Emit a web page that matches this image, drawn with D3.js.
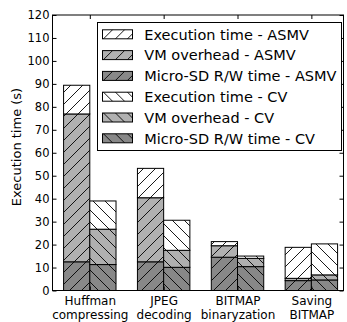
<!DOCTYPE html>
<html>
<head>
<meta charset="utf-8">
<script src="https://cdn.jsdelivr.net/npm/d3@7"></script>
<style>
  body { margin: 0; background: #fff; }
  svg { display: block; font-family: "DejaVu Sans", sans-serif; }
</style>
</head>
<body>
<div id="chart"></div>
<script>
// categories (two-line tick labels)
const categories = [["Huffman", "compressing"], ["JPEG", "decoding"], ["BITMAP", "binaryzation"], ["Saving", "BITMAP"]];

// ASMV stacked segments (s)
const asmvMicro = [12.5, 12.5, 14.5, 4.3];
const asmvVM = [64.4, 27.9, 5.0, 1.0];
const asmvExec = [12.5, 12.8, 1.8, 13.5];

// CV stacked segments (s)
const cvMicro = [11.3, 10.1, 10.4, 4.6];
const cvVM = [15.4, 7.4, 3.6, 2.2];
const cvExec = [12.3, 13.1, 1.0, 13.5];

const yTicks = [0, 10, 20, 30, 40, 50, 60, 70, 80, 90, 100, 110, 120];

const legendLabels = [
  "Execution time - ASMV", "VM overhead - ASMV", "Micro-SD R/W time - ASMV",
  "Execution time - CV", "VM overhead - CV", "Micro-SD R/W time - CV"
];

const width = 347, height = 322;
const mLeft = 52.5, mRight = 343.5, mTop = 15, mBottom = 290.5;
const barW = 0.355;

const svg = d3.select("#chart").append("svg")
  .attr("width", width)
  .attr("height", height);

const x = d3.scaleLinear().domain([-0.15, 3.79]).range([mLeft, mRight]);
const y = d3.scaleLinear().domain([0, 120]).range([mBottom, mTop]);

// hatch patterns
const defs = svg.append("defs");
const fills = { exec: "#ffffff", vm: "#b0b0b0", micro: "#888888" };
function makePattern(id, color, dir) {
  const p = defs.append("pattern")
    .attr("id", id)
    .attr("patternUnits", "userSpaceOnUse")
    .attr("width", 12).attr("height", 12);
  p.append("rect").attr("width", 12).attr("height", 12).attr("fill", color);
  const d = dir === "/"
    ? "M-3,3 L3,-3 M0,12 L12,0 M9,15 L15,9"
    : "M-3,9 L3,15 M0,0 L12,12 M9,-3 L15,3";
  p.append("path").attr("d", d).attr("stroke", "#000").attr("stroke-width", 0.9);
}
Object.keys(fills).forEach(k => {
  makePattern("asmv-" + k, fills[k], "/");
  makePattern("cv-" + k, fills[k], "\\");
});

function stackRows(micro, vm, exec) {
  return categories.map((c, i) => ({ i: i, micro: micro[i], vm: vm[i], exec: exec[i] }));
}
const keys = ["micro", "vm", "exec"];
const stack = d3.stack().keys(keys);

const series = [
  { name: "asmv", offset: 0, layers: stack(stackRows(asmvMicro, asmvVM, asmvExec)) },
  { name: "cv", offset: barW, layers: stack(stackRows(cvMicro, cvVM, cvExec)) }
];

const bars = svg.append("g");
series.forEach(s => {
  s.layers.forEach(layer => {
    bars.selectAll(null)
      .data(layer)
      .enter()
      .append("rect")
      .attr("x", d => x(d.data.i + s.offset))
      .attr("width", x(barW) - x(0))
      .attr("y", d => y(d[1]))
      .attr("height", d => y(d[0]) - y(d[1]))
      .attr("fill", "url(#" + s.name + "-" + layer.key + ")")
      .attr("stroke", "#000")
      .attr("stroke-width", 1);
  });
});

// axes
const tickPos = categories.map((c, i) => i + barW);

svg.append("g")
  .attr("transform", "translate(" + mLeft + ",0)")
  .call(d3.axisLeft(y).tickValues(yTicks).tickSize(-4).tickPadding(3))
  .call(g => g.select(".domain").remove())
  .call(g => g.selectAll("text").attr("font-size", 11.5).attr("fill", "#000").attr("font-family", "DejaVu Sans"));

svg.append("g")
  .attr("transform", "translate(" + mRight + ",0)")
  .call(d3.axisRight(y).tickValues(yTicks).tickSize(-4).tickFormat(""))
  .call(g => g.select(".domain").remove());

svg.append("g")
  .attr("transform", "translate(0," + mTop + ")")
  .call(d3.axisTop(x).tickValues(tickPos).tickSize(-4).tickFormat(""))
  .call(g => g.select(".domain").remove());

const xAxis = svg.append("g")
  .attr("transform", "translate(0," + mBottom + ")")
  .call(d3.axisBottom(x).tickValues(tickPos).tickSize(-4).tickFormat(""))
  .call(g => g.select(".domain").remove());

xAxis.selectAll(".tick").append("text")
  .attr("fill", "#000")
  .attr("font-size", 12)
  .attr("font-family", "DejaVu Sans")
  .attr("text-anchor", "middle")
  .selectAll("tspan")
  .data((d, i) => categories[i])
  .enter()
  .append("tspan")
  .attr("x", 0)
  .attr("y", (d, j) => 14 + j * 14)
  .text(d => d);

// frame
svg.append("rect")
  .attr("x", mLeft).attr("y", mTop)
  .attr("width", mRight - mLeft).attr("height", mBottom - mTop)
  .attr("fill", "none").attr("stroke", "#000").attr("stroke-width", 1);

// y label
svg.append("text")
  .attr("transform", "translate(21,147) rotate(-90)")
  .attr("text-anchor", "middle")
  .attr("font-size", 13)
  .text("Execution time (s)");

// legend
const legend = svg.append("g");
legend.append("rect")
  .attr("x", 97.5).attr("y", 22.5)
  .attr("width", 244).attr("height", 128)
  .attr("fill", "#fff").attr("stroke", "#000").attr("stroke-width", 1);

const legendFills = ["asmv-exec", "asmv-vm", "asmv-micro", "cv-exec", "cv-vm", "cv-micro"];
const rows = legend.selectAll(".row")
  .data(legendLabels)
  .enter()
  .append("g")
  .attr("transform", (d, i) => "translate(0," + (34.3 + i * 20.8) + ")");
rows.append("rect")
  .attr("x", 102.5).attr("y", -4.5)
  .attr("width", 30).attr("height", 9)
  .attr("fill", (d, i) => "url(#" + legendFills[i] + ")")
  .attr("stroke", "#000").attr("stroke-width", 1);
rows.append("text")
  .attr("x", 144.3)
  .attr("dy", "0.36em")
  .attr("font-size", 14.5)
  .text(d => d);
</script>
</body>
</html>
